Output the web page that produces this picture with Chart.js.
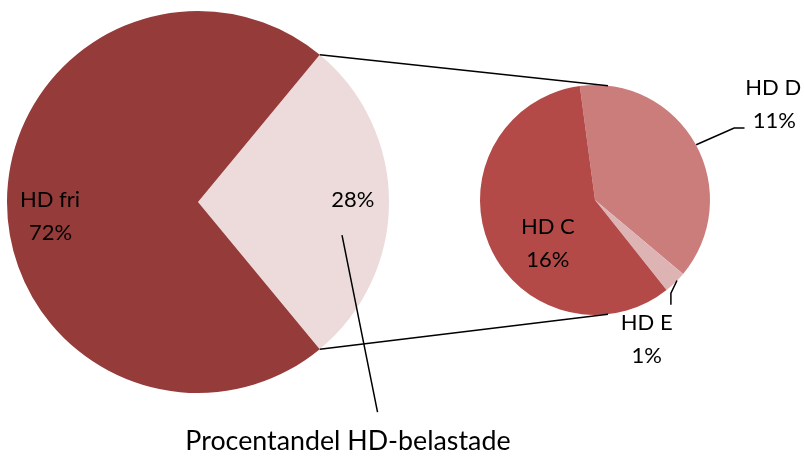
<!DOCTYPE html>
<html><head><meta charset="utf-8">
<script src="https://cdn.jsdelivr.net/npm/chart.js@4/dist/chart.umd.min.js"></script>
<style>
html,body{margin:0;padding:0;background:#fff;width:804px;height:457px;overflow:hidden}
#wrap{position:relative;width:804px;height:457px}
canvas{position:absolute;left:0;top:0}
</style></head><body>
<div id="wrap"><canvas id="main" width="804" height="457"></canvas><canvas id="sub" width="804" height="457"></canvas></div>
<script>
// ---- data ----
const mainLabels = ['Procentandel HD-belastade', 'HD fri'];
const mainValues = [28.0, 72.0];
const subLabels = ['HD D', 'HD E', 'HD C'];
const subValues = [10.7, 0.9, 16.4];

const mainColors = ['#EDDBDB', '#953B39'];
const subColors = ['#CB7D7C', '#DEB3B3', '#B34A47'];
const FONT = '22px Lato';
const BIG_FONT = '26.8px Lato';

function pct(v){ return Math.round(v) + '%'; }

const common = {
  responsive: false,
  animation: false,
  events: [],
  plugins: { legend: { display: false }, tooltip: { enabled: false } }
};

const mainChart = new Chart(document.getElementById('main'), {
  type: 'pie',
  data: { labels: mainLabels, datasets: [{ data: mainValues, backgroundColor: mainColors, borderWidth: 0 }] },
  options: Object.assign({}, common, {
    rotation: 39.6,
    layout: { padding: { left: 7, top: 11, right: 415, bottom: 64 } }
  })
});

const overlay = {
  id: 'overlay',
  afterDraw(chart) {
    const ctx = chart.ctx;
    const ma = mainChart.getDatasetMeta(0).data;
    const sa = chart.getDatasetMeta(0).data;
    const mx = ma[0].x, my = ma[0].y, mr = ma[0].outerRadius;
    const sx = sa[0].x, sy = sa[0].y, sr = sa[0].outerRadius;
    ctx.save();
    ctx.strokeStyle = '#000';
    ctx.lineWidth = 1.5;
    // connector lines between the pies
    const off = 6.5 * Math.PI / 180;
    const p1 = [mx + mr * Math.cos(ma[0].startAngle), my + mr * Math.sin(ma[0].startAngle)];
    const p2 = [mx + mr * Math.cos(ma[0].endAngle), my + mr * Math.sin(ma[0].endAngle)];
    const q1 = [sx + sr * Math.cos(-Math.PI / 2 + off), sy + sr * Math.sin(-Math.PI / 2 + off)];
    const q2 = [sx + sr * Math.cos(Math.PI / 2 - off), sy + sr * Math.sin(Math.PI / 2 - off)];
    ctx.beginPath();
    ctx.moveTo(p1[0], p1[1]); ctx.lineTo(q1[0], q1[1]);
    ctx.moveTo(p2[0], p2[1]); ctx.lineTo(q2[0], q2[1]);
    ctx.stroke();

    // leader lines
    ctx.beginPath();
    ctx.moveTo(mx + 0.754 * mr, my + 0.173 * mr);
    ctx.lineTo(mx + 0.94 * mr, my + 1.10 * mr);
    ctx.moveTo(sx + 0.88 * sr, sy - 0.48 * sr);
    ctx.lineTo(sx + 1.21 * sr, sy - 0.626 * sr);
    ctx.lineTo(sx + 1.30 * sr, sy - 0.626 * sr);
    ctx.moveTo(sx + 0.713 * sr, sy + 0.70 * sr);
    ctx.lineTo(sx + 0.66 * sr, sy + 0.81 * sr);
    ctx.lineTo(sx + 0.66 * sr, sy + 0.91 * sr);
    ctx.stroke();

    // texts
    ctx.fillStyle = '#000';
    ctx.font = FONT;
    ctx.textAlign = 'center';
    ctx.textBaseline = 'middle';
    const t = (s, x, y) => ctx.fillText(s, x, y);
    t(mainLabels[1], mx - 0.775 * mr, my - 0.01 * mr);
    t(pct(mainValues[1]), mx - 0.772 * mr, my + 0.162 * mr);
    t(pct(mainValues[0]), mx + 0.81 * mr, my - 0.01 * mr);
    t(subLabels[2], sx - 0.41 * sr, sy + 0.235 * sr);
    t(pct(subValues[2]), sx - 0.41 * sr, sy + 0.52 * sr);
    t(subLabels[0], sx + 1.55 * sr, sy - 0.975 * sr);
    t(pct(subValues[0]), sx + 1.56 * sr, sy - 0.69 * sr);
    t(subLabels[1], sx + 0.45 * sr, sy + 1.07 * sr);
    t(pct(subValues[1]), sx + 0.45 * sr, sy + 1.36 * sr);
    ctx.font = BIG_FONT;
    t(mainLabels[0], mx + 0.785 * mr, my + 1.255 * mr);
    ctx.restore();
  }
};

const subChart = new Chart(document.getElementById('sub'), {
  type: 'pie',
  data: { labels: subLabels, datasets: [{ data: subValues, backgroundColor: subColors, borderWidth: 0 }] },
  options: Object.assign({}, common, {
    rotation: -7.6,
    layout: { padding: { left: 480, top: 85, right: 94, bottom: 142 } }
  }),
  plugins: [overlay]
});
</script></body></html>
